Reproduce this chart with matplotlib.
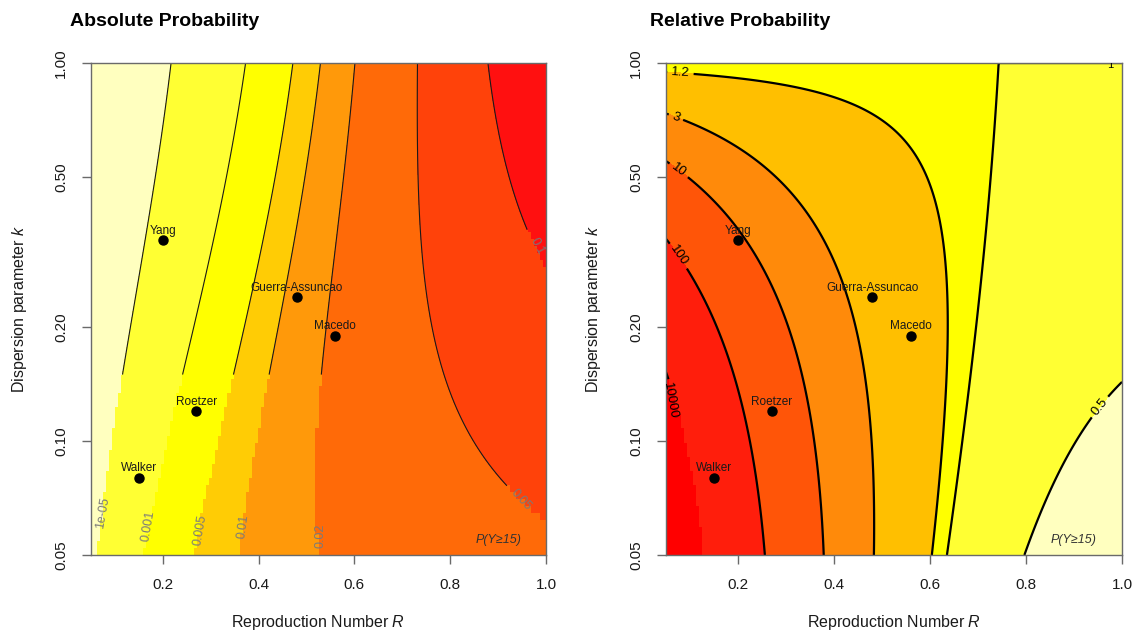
import math
import numpy as np
import matplotlib
matplotlib.use("Agg")
import matplotlib.pyplot as plt
from matplotlib.colors import ListedColormap, BoundaryNorm

plt.rcParams["font.family"] = ["Liberation Sans", "DejaVu Sans"]
plt.rcParams["mathtext.fontset"] = "custom"
plt.rcParams["mathtext.rm"] = "Liberation Sans"
plt.rcParams["mathtext.it"] = "Liberation Sans:italic"

# cluster-size threshold and parameter ranges
Y_MIN = 15
R_LIM = (0.05, 1.0)
K_LIM = (0.05, 1.0)

# contour levels for the two panels
abs_levels = [1e-5, 0.001, 0.005, 0.01, 0.02, 0.05, 0.1]
rel_levels = [0.5, 1, 1.2, 3, 10, 100, 10000]

abs_colors = ["#FFFFBF", "#FFFF33", "#FFFF00", "#FFCC05", "#FF990A",
              "#FF6A08", "#FF420A", "#FF1010"]
rel_colors = ["#FFFFBF", "#FFFF33", "#FFFF00", "#FFBF00", "#FF8A0A",
              "#FF5508", "#FF1E0C", "#FF0000"]

# published (R, k) estimates
studies = ["Walker", "Roetzer", "Yang", "Guerra-Assuncao", "Macedo"]
study_R = [0.15, 0.27, 0.20, 0.48, 0.56]
study_k = [0.08, 0.12, 0.34, 0.24, 0.19]

x_ticks = [0.2, 0.4, 0.6, 0.8, 1.0]
y_ticks = [0.05, 0.10, 0.20, 0.50, 1.00]


def tail_prob(R, k, n=Y_MIN):
    """P(Y >= n) for the total size of a subcritical negative-binomial cluster."""
    rk = R / k
    cdf = np.zeros(np.broadcast(R, k).shape)
    for y in range(1, n):
        logp = -(k * y + y - 1) * np.log1p(rk) + (y - 1) * np.log(rk) - math.lgamma(y + 1)
        for j in range(y - 1):
            logp = logp + np.log(k * y + j)
        cdf = cdf + np.exp(logp)
    return 1.0 - cdf


def grids(nr, nk):
    r = np.linspace(R_LIM[0], R_LIM[1], nr)
    k = np.logspace(np.log10(K_LIM[0]), np.log10(K_LIM[1]), nk)
    return r, k


def fields(r, k):
    RR, KK = np.meshgrid(r, k)
    p_abs = tail_prob(RR, KK)
    p_geo = tail_prob(RR, np.ones_like(KK))
    p_rel = p_abs / p_geo
    # the geometric row sits on the upper side of the unit contour
    p_rel = np.where(KK >= 1.0, 1.0 + 1e-9, p_rel)
    return RR, KK, p_abs, p_rel


# fine grid for smooth fills and lines
r_f, k_f = grids(420, 320)
RF, KF, abs_f, rel_f = fields(r_f, k_f)

# coarse raster underneath
r_edges = np.linspace(R_LIM[0], R_LIM[1], 151)
k_edges = np.logspace(np.log10(K_LIM[0]), np.log10(K_LIM[1]), 71)
r_c = 0.5 * (r_edges[:-1] + r_edges[1:])
k_c = np.sqrt(k_edges[:-1] * k_edges[1:])
RC, KC, abs_c, rel_c = fields(r_c, k_c)

# regions where only the raster is shown and lines are left out
abs_hole = ((RF < 0.6) & (KF < 0.15)) | ((RF > 0.92) & (KF < 0.36))
rel_hole = (RF < 0.16) & (KF < 0.145)

fig = plt.figure(figsize=(11.35, 6.33), dpi=100)
W, H = 1135.0, 633.0
ax1 = fig.add_axes([91 / W, 1 - 555 / H, 455 / W, 492 / H])
ax2 = fig.add_axes([666 / W, 1 - 555 / H, 456 / W, 492 / H])

spine_col = "#6a6a6a"


def panel(ax, f_fine, f_coarse, hole, levels, colors, lw, line_col):
    bounds = [0.0] + list(levels) + [1e30]
    cmap = ListedColormap(colors)
    norm = BoundaryNorm(bounds, cmap.N)
    ax.pcolormesh(r_edges, k_edges, f_coarse, cmap=cmap, norm=norm,
                  shading="flat", zorder=0, antialiased=False)
    masked = np.ma.masked_where(hole, f_fine)
    ax.contourf(RF, KF, masked, levels=bounds, cmap=cmap, norm=norm, zorder=1)
    cs = ax.contour(RF, KF, masked, levels=levels, colors=line_col,
                    linewidths=lw, zorder=2)
    ax.set_yscale("log")
    ax.set_xlim(*R_LIM)
    ax.set_ylim(*K_LIM)
    ax.set_xticks(x_ticks)
    ax.set_xticklabels([f"{v:.1f}" for v in x_ticks])
    ax.set_yticks(y_ticks)
    ax.set_yticklabels([f"{v:.2f}" for v in y_ticks])
    ax.yaxis.set_minor_locator(matplotlib.ticker.NullLocator())
    ax.tick_params(axis="both", length=6.5, width=1, color=spine_col,
                   labelsize=11, labelcolor="#1a1a1a")
    ax.tick_params(axis="x", pad=10)
    ax.tick_params(axis="y", pad=10)
    for lab in ax.get_yticklabels():
        lab.set_rotation(90)
        lab.set_va("center")
        lab.set_ha("right")
    for s in ax.spines.values():
        s.set_color(spine_col)
        s.set_linewidth(1)
    ax.plot(study_R, study_k, "o", color="black", markersize=6.5, zorder=4)
    for name, rv, kv in zip(studies, study_R, study_k):
        ax.annotate(name, (rv, kv), xytext=(0, 6.8), textcoords="offset points",
                    ha="center", va="center", fontsize=8.5, color="#1a1a1a",
                    zorder=5)
    ax.text(0.9, 0.0547, "P(Y\u226515)", fontstyle="italic", fontsize=9,
            color="#333333", ha="center", va="center", zorder=5)
    ax.text(0.5, -0.138, "Reproduction Number $R$", transform=ax.transAxes,
            ha="center", va="center", fontsize=11.5, color="#1a1a1a")
    ax.text(-0.158, 0.5, "Dispersion parameter $k$", transform=ax.transAxes,
            ha="center", va="center", rotation=90, fontsize=11.5,
            color="#1a1a1a")
    return cs


fmt = {v: "%g" % v for v in abs_levels + rel_levels}

# absolute probability panel
cs1 = panel(ax1, abs_f, abs_c, abs_hole, abs_levels, abs_colors, 0.8, "#1a1a1a")
lab_col = "#7a7a7a"
abs_labels = [
    (abs_levels[0], 0.075, 0.0645, 80),
    (abs_levels[1], 0.170, 0.0596, 80),
    (abs_levels[2], 0.279, 0.0583, 80),
    (abs_levels[3], 0.368, 0.0596, 82),
    (abs_levels[4], 0.530, 0.0562, 90),
    (abs_levels[5], 0.948, 0.0698, -47),
    (abs_levels[6], 0.982, 0.3280, -62),
]
for lev, rv, kv, rot in abs_labels:
    ax1.text(rv, kv, fmt[lev], rotation=rot, rotation_mode="anchor",
             ha="center", va="center", fontsize=9, color=lab_col, zorder=5)

# relative probability panel
cs2 = panel(ax2, rel_f, rel_c, rel_hole, rel_levels, rel_colors, 1.6, "black")
ax2.clabel(cs2, fmt=fmt, fontsize=9.5, inline=True, inline_spacing=4,
           colors="black",
           manual=[(0.08, 0.94), (0.07, 0.715), (0.074, 0.515),
                   (0.07, 0.305), (0.958, 0.122)])
ax2.text(0.059, 0.128, fmt[10000], rotation=-80, rotation_mode="anchor",
         ha="center", va="center", fontsize=9.5, color="black", zorder=5)
ax2.text(0.975, 0.99, fmt[1], ha="center", va="center", fontsize=8,
         color="black", zorder=5, clip_on=True)

fig.text(70 / W, 1 - 22 / H, "Absolute Probability", fontsize=14,
         fontweight="bold", ha="left", va="center")
fig.text(650 / W, 1 - 22 / H, "Relative Probability", fontsize=14,
         fontweight="bold", ha="left", va="center")

fig.savefig("out.png", dpi=100, facecolor="white")
